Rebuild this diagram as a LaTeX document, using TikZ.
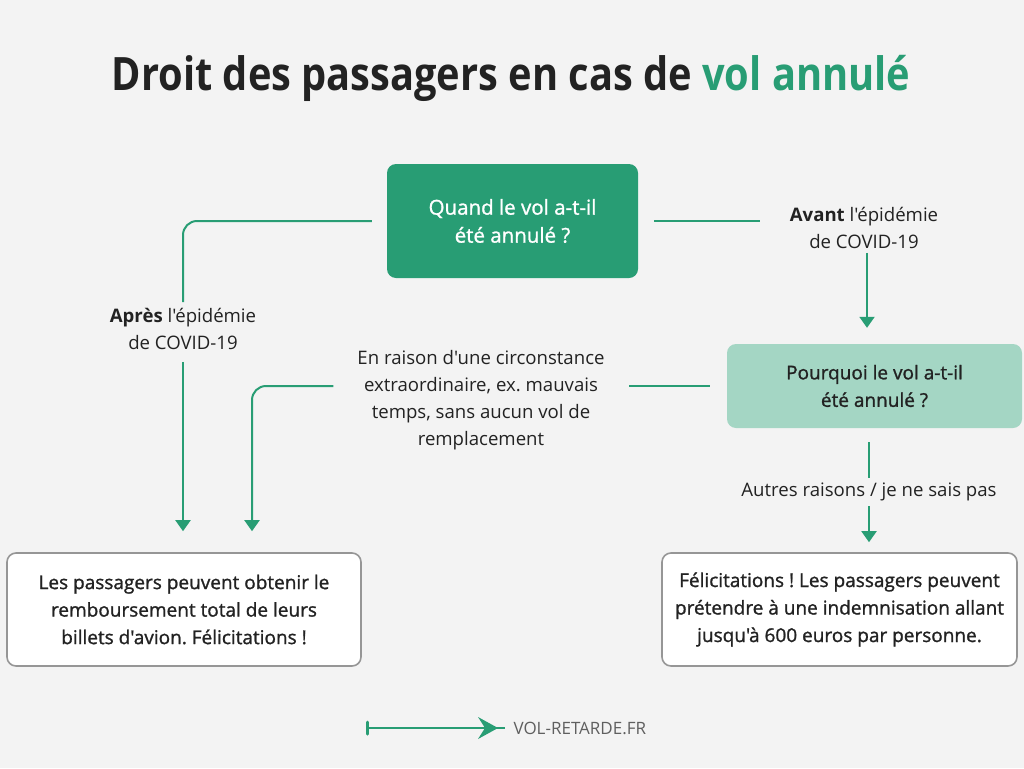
\documentclass[tikz,border=0pt]{standalone}
\usepackage{fontspec}
\setmainfont{Open Sans}
\newfontfamily\vrregular{Open Sans}
\newfontfamily\vrsemi[FakeBold=1.2]{Open Sans}
\newfontfamily\vrtitlefont[FakeStretch=0.865]{Open Sans}
\usetikzlibrary{
    arrows.meta,
    positioning
}
\definecolor{vrGreen}{RGB}{40,157,116}
\definecolor{vrMint}{RGB}{164,214,196}
\definecolor{vrBack}{RGB}{243,243,243}
\definecolor{vrText}{RGB}{34,34,34}
\definecolor{vrFrame}{RGB}{150,150,150}
\definecolor{vrGray}{RGB}{95,95,95}
\newcommand\vrbody{\fontsize{18.6}{27}\selectfont}
\newcommand\vrboxtext{\fontsize{19}{27.5}\selectfont}
\frenchspacing
\tikzset{
  qbox/.style  = {rounded corners=9pt, minimum width=251pt,
                  minimum height=114pt, align=center, font=\vrsemi\vrboxtext},
  rbox/.style  = {draw=vrFrame, line width=1.6pt, fill=white, rounded corners=9pt,
                  minimum width=354pt, minimum height=113pt, align=center,
                  text=vrText, font=\vrsemi\vrboxtext},
  lbl/.style   = {align=center, text=vrText, inner sep=2pt, font=\vrregular\vrbody},
  conn/.style  = {vrGreen, line width=2pt, rounded corners=14pt},
  arr/.style   = {conn, -{Triangle[length=11pt,width=15pt]}}
}

\begin{document}
\begin{tikzpicture}[x=1pt, y=-1pt]
\path[use as bounding box, fill=vrBack] (0,0) rectangle (1024,768);

\node[font=\vrtitlefont\bfseries\fontsize{46}{50}\selectfont, text=vrText] (title) at (511,78)
  {Droit des passagers en cas de \textcolor{vrGreen}{vol annulé}};

\node[qbox, fill=vrGreen, text=white, font=\vrsemi\fontsize{20.5}{28}\selectfont] (quand) at (512.5,221)
  {Quand le vol a-t-il\\été annulé ?};
\node[qbox, fill=vrMint, text=vrText, minimum width=295pt, minimum height=84pt] (pourquoi) at (874.5,386)
  {Pourquoi le vol a-t-il\\été annulé ?};
\node[rbox] (rembours) at (184,609.5)
  {Les passagers peuvent obtenir le\\remboursement total de leurs\\billets d'avion. Félicitations !};
\node[rbox, minimum width=355pt] (indemn) at (839.5,609.5)
  {Félicitations ! Les passagers peuvent\\prétendre à une indemnisation allant\\jusqu'à 600 euros par personne.};

\node[lbl] (apres) at (183,329) {\textbf{Après} l'épidémie\\de COVID-19};
\node[lbl] (avant) at (864,228) {\textbf{Avant} l'épidémie\\de COVID-19};
\node[lbl] (raison) at (481,400.5)
  {En raison d'une circonstance\\extraordinaire, ex. mauvais\\temps, sans aucun vol de\\remplacement};
\node[lbl] (autres) at (869,492) {Autres raisons / je ne sais pas};

% quand -> apres / avant
\draw[conn, shorten <=15pt, shorten >=4pt] (quand.west) -| (apres.north);
\draw[arr, shorten <=10pt, shorten >=21pt] (apres.south) -- (apres |- rembours.north);
\draw[conn, shorten <=16pt] (quand.east) -- (quand.east -| 760,0);
\draw[arr, shorten <=2pt, shorten >=16pt] ([xshift=3pt]avant.south) -- ([xshift=3pt]avant.south |- pourquoi.north);

% pourquoi -> raison -> rembours
\draw[conn, shorten <=17pt, shorten >=22pt] (pourquoi.west) -- (pourquoi.west -| raison.east);
\draw[arr, shorten <=22pt, shorten >=21pt] (pourquoi.west -| raison.west) -| ([xshift=68pt]rembours.north);

% pourquoi -> autres -> indemn
\draw[conn, shorten <=14pt, shorten >=3pt] (pourquoi.south -| autres) -- (autres.north);
\draw[arr, shorten <=3pt, shorten >=10pt] (autres.south) -- (autres |- indemn.north);

% footer logo
\coordinate (logo) at (367,728);
\node[anchor=west, text=vrGray, font=\vrregular\fontsize{17}{20}\selectfont] (site) at (510,728) {VOL-RETARDE.FR};
\draw[vrGreen, line width=2.6pt] (logo) -- ([xshift=-5pt]site.west);
\draw[vrGreen, line width=3pt, line cap=round] (logo) ++(0,-6) -- ++(0,12);
\fill[vrGreen] (logo) ++(111,-11) -- ++(20,11) -- ++(-20,11) -- ++(7,-11) -- cycle;
\end{tikzpicture}
\end{document}
